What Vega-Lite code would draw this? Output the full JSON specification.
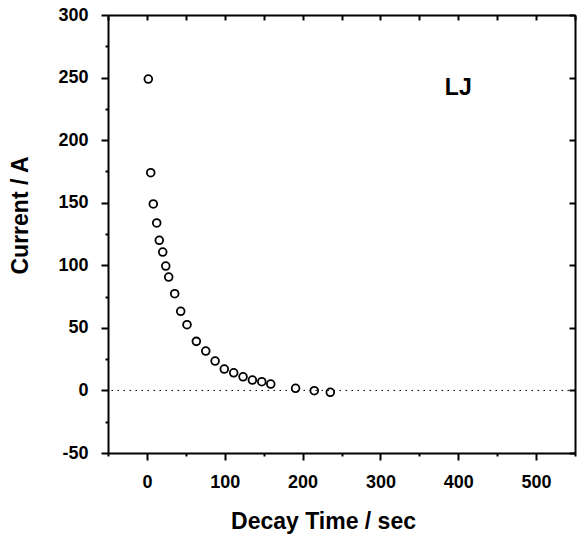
{
  "$schema": "https://vega.github.io/schema/vega-lite/v6.json",
  "autosize": "none",
  "padding": {"left": 108, "top": 15, "right": 5, "bottom": 82},
  "width": 467,
  "height": 438,
  "background": "white",
  "config": {
    "view": {"stroke": null},
    "font": "Liberation Sans",
    "axis": {
      "domainColor": "black",
      "domainWidth": 2,
      "labelColor": "black",
      "labelFont": "Liberation Sans",
      "labelFontWeight": "bold",
      "labelFontSize": 18,
      "titleColor": "black",
      "titleFont": "Liberation Sans",
      "titleFontWeight": "bold",
      "titleFontSize": 23,
      "grid": false
    }
  },
  "datasets": {
    "points": [
      {"t": 1.8, "current": 248.8},
      {"t": 4.9, "current": 174.0},
      {"t": 8.2, "current": 149.0},
      {"t": 12.6, "current": 133.8},
      {"t": 15.9, "current": 120.0},
      {"t": 20.3, "current": 110.6},
      {"t": 24.2, "current": 99.4},
      {"t": 28.0, "current": 90.6},
      {"t": 35.7, "current": 77.3},
      {"t": 43.4, "current": 63.2},
      {"t": 51.5, "current": 52.5},
      {"t": 63.5, "current": 39.2},
      {"t": 75.6, "current": 31.5},
      {"t": 87.6, "current": 23.5},
      {"t": 99.4, "current": 17.1},
      {"t": 111.5, "current": 14.1},
      {"t": 123.5, "current": 10.9},
      {"t": 135.5, "current": 8.3},
      {"t": 147.6, "current": 7.0},
      {"t": 159.1, "current": 5.1},
      {"t": 191.0, "current": 1.7},
      {"t": 215.0, "current": -0.2},
      {"t": 235.6, "current": -1.5}
    ],
    "zero": [{"current": 0}],
    "label": [{"t": 400, "current": 236, "text": "LJ"}]
  },
  "resolve": {"axis": {"x": "independent", "y": "independent"}},
  "layer": [
    {
      "data": {"name": "zero"},
      "mark": {"type": "rule", "color": "black", "strokeWidth": 1, "strokeDash": [1.5, 4.5]},
      "encoding": {
        "y": {"field": "current", "type": "quantitative", "scale": {"domain": [-50, 300], "nice": false, "zero": false}, "axis": null}
      }
    },
    {
      "data": {"name": "points"},
      "mark": {"type": "point", "shape": "circle", "filled": false, "stroke": "black", "strokeWidth": 1.8, "size": 60, "opacity": 1},
      "encoding": {
        "x": {
          "field": "t", "type": "quantitative",
          "scale": {"domain": [-50, 550], "nice": false, "zero": false},
          "axis": {
            "orient": "bottom",
            "title": "Decay Time / sec",
            "tickCount": 12,
            "tickColor": "black",
            "tickWidth": 2,
            "tickSize": {"condition": {"test": "datum.value % 100 === 0", "value": 7}, "value": 3},
            "labelExpr": "(datum.value % 100 === 0 && datum.value >= 0 && datum.value <= 500) ? toString(datum.value) : ''",
            "labelBaseline": "alphabetic",
            "labelPadding": 27,
            "labelFlush": false,
            "labelOverlap": false,
            "titleX": 215,
            "titleY": 75,
            "titleBaseline": "alphabetic",
            "titleAnchor": null,
            "titleAlign": "center"
          }
        },
        "y": {
          "field": "current", "type": "quantitative",
          "scale": {"domain": [-50, 300], "nice": false, "zero": false},
          "axis": {
            "orient": "left",
            "title": "Current / A",
            "values": [-50, -25, 0, 25, 50, 75, 100, 125, 150, 175, 200, 225, 250, 275, 300],
            "tickColor": "black",
            "tickWidth": 2,
            "tickSize": {"condition": {"test": "datum.value % 50 === 0", "value": 7}, "value": 3},
            "labelExpr": "datum.value % 50 === 0 ? toString(datum.value) : ''",
            "labelPadding": 13,
            "labelFlush": false,
            "labelOverlap": false,
            "titleAngle": -90,
            "titleX": -81,
            "titleY": 200,
            "titleBaseline": "alphabetic",
            "titleAlign": "center",
            "titleAnchor": null
          }
        }
      }
    },
    {
      "data": {"name": "label"},
      "mark": {"type": "text", "font": "Liberation Sans", "fontWeight": "bold", "fontSize": 23, "color": "black", "align": "center", "baseline": "alphabetic"},
      "encoding": {
        "x": {
          "field": "t", "type": "quantitative",
          "scale": {"domain": [-50, 550], "nice": false, "zero": false},
          "axis": {
            "orient": "top",
            "title": null,
            "labels": false,
            "tickCount": 12,
            "tickColor": "black",
            "tickWidth": 2,
            "tickSize": -5
          }
        },
        "y": {
          "field": "current", "type": "quantitative",
          "scale": {"domain": [-50, 300], "nice": false, "zero": false},
          "axis": {
            "orient": "right",
            "title": null,
            "labels": false,
            "tickCount": 7,
            "tickColor": "black",
            "tickWidth": 2,
            "tickSize": -6
          }
        },
        "text": {"field": "text", "type": "nominal"}
      }
    }
  ]
}
